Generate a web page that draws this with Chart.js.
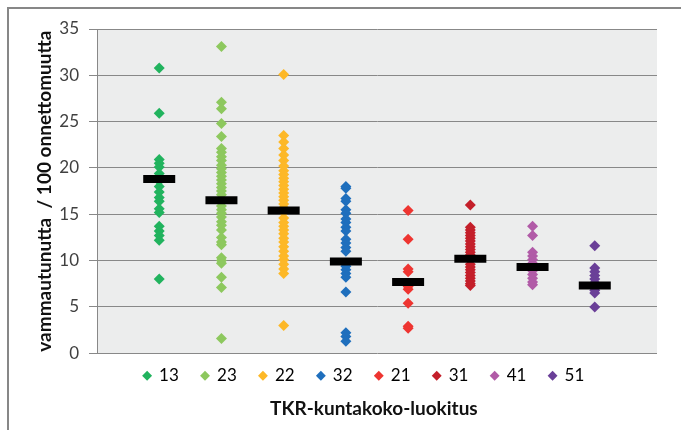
<!DOCTYPE html>
<html>
<head>
<meta charset="utf-8">
<script src="https://cdn.jsdelivr.net/npm/chart.js@4/dist/chart.umd.min.js"></script>
<style>
  body { margin: 0; background: #fff; }
  #wrap { position: relative; width: 681px; height: 430px; overflow: hidden; }
  #frame { position: absolute; left: 7px; top: 7px; width: 800px; height: 600px;
           border-left: 2px solid #878787; border-top: 2px solid #878787; }
  canvas { position: absolute; left: 0; top: 0; }
</style>
</head>
<body>
<div id="wrap">
  <div id="frame"></div>
  <canvas id="chart" width="681" height="430"></canvas>
</div>
<script>
// categories (TKR size class) and their colours
const categories = ["13", "23", "22", "32", "21", "31", "41", "51"];
const colors = ["#21B35E", "#8DC85E", "#FDB827", "#1F6FBD", "#EE3531", "#C41F2A", "#B15BA7", "#6A3F98"];

// injured per 100 accidents, one array per class
const c13 = [30.8, 25.9, 20.9, 20.5, 20.1, 19.4, 18.6, 18.0, 17.4, 16.8, 16.4, 15.6, 15.2, 13.7, 13.2, 12.7, 12.2, 8.0];
const c23 = [33.1, 27.1, 26.4, 24.8, 23.4, 22.1, 21.7, 21.2, 20.8, 20.3, 19.9, 19.5, 19.1, 18.7, 18.3, 17.9, 17.5,
             17.1, 16.7, 16.3, 15.9, 15.5, 15.1, 14.7, 14.2, 13.8, 13.3, 12.5, 12.0, 11.7, 10.3, 10.0, 9.7, 8.2, 7.1, 1.6];
const c22 = [30.1, 23.5, 22.8, 22.1, 21.4, 20.8, 20.2, 19.7, 19.3, 18.9, 18.5, 18.1, 17.7, 17.3, 16.9, 16.5, 16.1,
             15.7, 15.2, 14.6, 14.1, 13.7, 13.3, 12.9, 12.4, 12.0, 11.5, 11.0, 10.5, 10.1, 9.6, 9.1, 8.6, 3.0];
const c32 = [18.0, 17.8, 16.7, 16.4, 15.5, 15.1, 14.5, 14.1, 13.6, 13.2, 12.3, 11.9, 11.4, 11.0, 9.4, 9.0, 8.6, 8.2, 6.6, 2.2, 1.8, 1.3];
const c21 = [15.4, 12.3, 9.1, 8.8, 7.2, 6.9, 5.4, 2.9, 2.7];
const c31 = [16.0, 13.6, 13.3, 13.0, 12.7, 12.4, 12.1, 11.8, 11.5, 11.2, 10.9, 10.6, 9.6, 9.3, 9.0, 8.7, 8.4, 8.1, 7.8, 7.5, 7.3];
const c41 = [13.7, 12.7, 10.9, 10.5, 10.1, 9.7, 9.3, 8.9, 8.5, 8.1, 7.7, 7.4];
const c51 = [11.6, 9.2, 8.8, 8.4, 8.0, 7.6, 7.2, 6.8, 6.5, 5.0];

// black markers (class averages)
const means = [18.8, 16.5, 15.4, 9.9, 7.7, 10.2, 9.3, 7.3];

const yTicks = [0, 5, 10, 15, 20, 25, 30, 35];

const series = [c13, c23, c22, c32, c21, c31, c41, c51];

const datasets = series.map((vals, i) => ({
    label: categories[i],
    data: vals.map(v => ({ x: i + 1, y: v })),
    pointStyle: "rectRot",
    pointRadius: 5.5,
    borderWidth: 0,
    backgroundColor: colors[i],
    borderColor: colors[i]
}));

datasets.push({
    label: "mean",
    data: means.map((v, i) => ({ x: i + 1, y: v })),
    pointStyle: "line",
    pointRadius: 16,
    borderWidth: 8,
    borderColor: "#000",
    backgroundColor: "#000",
    order: -1
});

// grey plot area
const plotBg = {
    id: "plotBg",
    beforeDraw(chart) {
        const a = chart.chartArea;
        const ctx = chart.ctx;
        ctx.save();
        ctx.fillStyle = "#ECEDED";
        ctx.fillRect(a.left, a.top, a.right - a.left, a.bottom - a.top);
        ctx.restore();
    }
};

new Chart(document.getElementById("chart"), {
    type: "scatter",
    data: { datasets: datasets },
    plugins: [plotBg],
    options: {
        responsive: false,
        animation: false,
        events: [],
        layout: { padding: { left: 30, right: 14, top: 29, bottom: 8 } },
        scales: {
            x: { type: "linear", min: 0, max: 9, display: false },
            y: {
                min: 0,
                max: 35,
                afterBuildTicks(axis) { axis.ticks = yTicks.map(v => ({ value: v })); },
                afterFit(axis) { axis.width = 67; },
                ticks: { color: "#404040", font: { family: "Lato", size: 17 }, padding: 10 },
                grid: { color: "#888", tickLength: 8 },
                border: { color: "#888" },
                title: {
                    display: true,
                    text: "vammautunutta  / 100 onnettomuutta",
                    color: "#111",
                    font: { family: "Lato", size: 19, weight: "bold" },
                    padding: { top: 3, bottom: 0 }
                }
            }
        },
        plugins: {
            tooltip: { enabled: false },
            legend: {
                position: "bottom",
                fullSize: false,
                labels: {
                    usePointStyle: true,
                    boxWidth: 7,
                    boxHeight: 7,
                    padding: 14,
                    color: "#222",
                    font: { family: "Lato", size: 17 },
                    generateLabels: () => categories.map((c, i) => ({
                        text: c + (i === categories.length - 1 ? "      " : "  "),
                        fillStyle: colors[i],
                        strokeStyle: colors[i],
                        lineWidth: 0,
                        pointStyle: "rectRot",
                        hidden: false,
                        datasetIndex: i
                    }))
                }
            },
            title: {
                display: true,
                position: "bottom",
                text: "           TKR-kuntakoko-luokitus",
                color: "#111",
                font: { family: "Lato", size: 19, weight: "bold" },
                padding: { top: 3, bottom: 2 }
            }
        }
    }
});
</script>
</body>
</html>
